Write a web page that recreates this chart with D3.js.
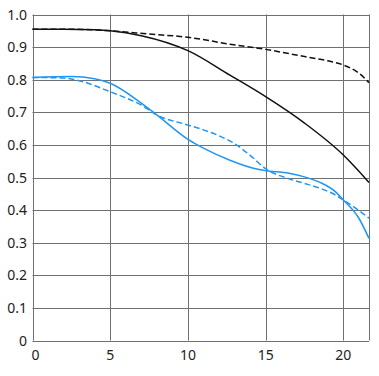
<!DOCTYPE html>
<html>
<head>
<meta charset="utf-8">
<script src="https://cdn.jsdelivr.net/npm/d3@7"></script>
<style>
	body { margin: 0; background: #fff; }
	text { font-family: "Noto Sans", sans-serif; font-size: 14px; fill: #222; }
</style>
</head>
<body>
<div id="plot"></div>
<script>

// image height (mm) and MTF values
let xTicks = [ 0, 5, 10, 15, 20 ];
let yTicks = [ 0, 0.1, 0.2, 0.3, 0.4, 0.5, 0.6, 0.7, 0.8, 0.9, 1.0 ];
let yTickLabels = [ "0", "0.1", "0.2", "0.3", "0.4", "0.5", "0.6", "0.7", "0.8", "0.9", "1.0" ];

let blackSolidX = [ 0, 2, 4, 5, 7, 10, 12.7, 15, 17.5, 20, 21.65 ];
let blackSolidY = [ 0.955, 0.955, 0.953, 0.950, 0.935, 0.889, 0.814, 0.748, 0.667, 0.569, 0.485 ];

let blackDashX = [ 0, 2, 4, 5, 7.5, 10, 12.7, 15, 17.5, 19, 20, 21, 21.65 ];
let blackDashY = [ 0.955, 0.955, 0.953, 0.950, 0.94, 0.930, 0.909, 0.893, 0.871, 0.858, 0.845, 0.82, 0.791 ];

let blueSolidX = [ 0, 2.5, 4, 5, 7, 8, 10, 11, 12.7, 14.5, 15, 16.5, 17.5, 18.5, 19.5, 20, 21, 21.65 ];
let blueSolidY = [ 0.807, 0.81, 0.803, 0.789, 0.728, 0.692, 0.617, 0.59, 0.553, 0.525, 0.521, 0.513, 0.502, 0.485, 0.456, 0.431, 0.375, 0.313 ];

let blueDashX = [ 0, 2, 3, 5, 7, 8, 10, 11, 12, 13, 14, 15, 16.5, 17.5, 18.5, 19.5, 20, 21, 21.65 ];
let blueDashY = [ 0.807, 0.805, 0.797, 0.763, 0.722, 0.692, 0.661, 0.646, 0.628, 0.604, 0.568, 0.527, 0.496, 0.482, 0.467, 0.446, 0.431, 0.399, 0.375 ];

let xMax = 21.65;

///////////////////////////////////////////////////////////////////////

let width = 379, height = 376;
let margin = { left: 32.5, right: 10, top: 14.5, bottom: 35.5 };

let svg = d3.select( "#plot" )
	.append( "svg" )
		.attr( "width", width )
		.attr( "height", height );

let x = d3.scaleLinear()
	.domain( [ 0, xMax ] )
	.range( [ margin.left, width - margin.right ] );

let y = d3.scaleLinear()
	.domain( [ 0, 1 ] )
	.range( [ height - margin.bottom, margin.top ] );

let grid = svg.append( "g" )
	.attr( "stroke", "#707070" )
	.attr( "stroke-width", 1 );

grid.selectAll( "line.h" )
	.data( yTicks )
	.join( "line" )
		.attr( "class", "h" )
		.attr( "x1", x( 0 ) )
		.attr( "x2", x( xMax ) )
		.attr( "y1", d => Math.round( y( d ) ) + 0.5 )
		.attr( "y2", d => Math.round( y( d ) ) + 0.5 );

grid.selectAll( "line.v" )
	.data( xTicks.concat( [ xMax ] ) )
	.join( "line" )
		.attr( "class", "v" )
		.attr( "x1", d => Math.round( x( d ) ) + 0.5 )
		.attr( "x2", d => Math.round( x( d ) ) + 0.5 )
		.attr( "y1", y( 0 ) )
		.attr( "y2", y( 1 ) );

// y tick labels
svg.append( "g" )
	.selectAll( "text" )
	.data( yTicks )
	.join( "text" )
		.attr( "x", 27 )
		.attr( "y", d => y( d ) + 5 )
		.attr( "text-anchor", "end" )
		.text( ( d, i ) => yTickLabels[ i ] );

// x tick labels
svg.append( "g" )
	.selectAll( "text" )
	.data( xTicks )
	.join( "text" )
		.attr( "x", d => x( d ) + ( d === 0 ? 3 : 0 ) )
		.attr( "y", 360 )
		.attr( "text-anchor", "middle" )
		.text( d => d );

let line = d3.line()
	.x( d => x( d[ 0 ] ) )
	.y( d => y( d[ 1 ] ) )
	.curve( d3.curveMonotoneX );

let series = [
	{ xs: blackDashX, ys: blackDashY, color: "#111", dash: "6,3" },
	{ xs: blackSolidX, ys: blackSolidY, color: "#111", dash: null },
	{ xs: blueDashX, ys: blueDashY, color: "#2196f3", dash: "6,3" },
	{ xs: blueSolidX, ys: blueSolidY, color: "#2196f3", dash: null }
];

svg.append( "g" )
	.selectAll( "path" )
	.data( series )
	.join( "path" )
		.attr( "fill", "none" )
		.attr( "stroke", d => d.color )
		.attr( "stroke-width", 1.5 )
		.attr( "stroke-dasharray", d => d.dash )
		.attr( "d", d => line( d.xs.map( ( v, i ) => [ v, d.ys[ i ] ] ) ) );

</script>
</body>
</html>
